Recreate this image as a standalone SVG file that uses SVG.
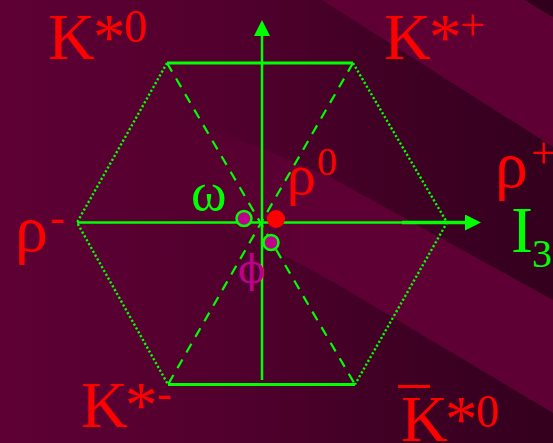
<svg xmlns="http://www.w3.org/2000/svg" width="553" height="443" viewBox="0 0 553 443">
<defs>
<linearGradient id="bg" gradientUnits="userSpaceOnUse" x1="0" y1="0" x2="553" y2="0">
<stop offset="0" stop-color="#5E0034"/>
<stop offset="0.4" stop-color="#52002E"/>
<stop offset="0.7" stop-color="#400024"/>
<stop offset="1" stop-color="#34001E"/>
</linearGradient>
<linearGradient id="band" gradientUnits="userSpaceOnUse" x1="170" y1="0" x2="300" y2="0">
<stop offset="0" stop-color="#5E0034" stop-opacity="0"/>
<stop offset="1" stop-color="#5E0034" stop-opacity="1"/>
</linearGradient>
<marker id="arrow" viewBox="0 0 16 16" refX="0" refY="8" markerWidth="16" markerHeight="16" markerUnits="userSpaceOnUse" orient="auto">
<path d="M0,0 L16,8 L0,16 Z" fill="#00FF00"/>
</marker>
</defs>
<style>
.t{font-family:"Liberation Serif","Times New Roman",serif}
.r{fill:#FF0000}
.g{fill:#00FF00}
.m{fill:#C0008C}
.axis{stroke:#00FF00;stroke-width:2.5;fill:none}
.dot{stroke:#00FF00;stroke-width:2.4;stroke-dasharray:2.2 2.2;fill:none}
.dash{stroke:#00FF00;stroke-width:2.2;stroke-dasharray:10 8;fill:none}
.edge{stroke:#00FF00;stroke-width:3;fill:none}
.pt{fill:#C0008C;stroke:#00FF00;stroke-width:2.5}
</style>
<g id="background">
<rect width="553" height="443" fill="url(#bg)"/>
<polygon points="322,0 525,0 553,17 553,147" fill="#5E0034"/>
<polygon points="553,0 525,0 553,17" fill="#30001C"/>
<polygon points="170,115 260,148 330,177 553,300 553,413 330,280 270,248 170,200" fill="url(#band)"/>
</g>
<g id="connectors">
<line class="edge" x1="167" y1="63" x2="353" y2="63"/>
<line class="edge" x1="168" y1="384.5" x2="355" y2="384.5"/>
<polyline class="dot" points="167,63 77,222.5 168,384.5"/>
<polyline class="dot" points="353,63 447,222.5 355,384.5"/>
<line class="dash" x1="167" y1="63" x2="355" y2="384.5"/>
<line class="dash" x1="353" y1="63" x2="168" y2="384.5"/>
<line class="axis" x1="262" y1="380" x2="262" y2="36" marker-end="url(#arrow)"/>
<line class="axis" x1="77" y1="222.5" x2="465" y2="222.5" marker-end="url(#arrow)"/>
<line class="axis" x1="402" y1="222.5" x2="465" y2="222.5" style="stroke-width:3.5"/>
</g>
<g id="K-star-0">
<text class="t r" font-size="65"><tspan x="48" y="59">K</tspan><tspan x="93" y="59">*</tspan><tspan x="124" y="42" font-size="46">0</tspan></text>
</g>
<g id="K-star-plus">
<text class="t r" font-size="65"><tspan x="384" y="59">K</tspan><tspan x="429" y="59">*</tspan><tspan x="460" y="40" font-size="44">+</tspan></text>
</g>
<g id="rho-minus">
<text class="t r" font-size="66"><tspan x="15" y="251">ρ</tspan><tspan x="50" y="232" font-size="44">-</tspan></text>
</g>
<g id="rho-plus">
<text class="t r" font-size="66"><tspan x="495" y="187">ρ</tspan><tspan x="531" y="168" font-size="44">+</tspan></text>
</g>
<g id="rho-0">
<circle cx="276" cy="219" r="9" fill="#FF0000"/>
<text class="t r" font-size="58"><tspan x="287" y="194">ρ</tspan><tspan x="317" y="175" font-size="40">0</tspan></text>
</g>
<g id="omega">
<circle class="pt" cx="244" cy="218.5" r="7.5"/>
<text class="t g" font-size="54" x="191" y="210">ω</text>
</g>
<g id="phi">
<circle class="pt" cx="271" cy="242.5" r="7.5"/>
<text class="m" font-size="40" x="238" y="283" style="font-family:'DejaVu Serif','Liberation Serif',serif">ϕ</text>
</g>
<g id="I3">
<text class="t g" font-size="66"><tspan x="511" y="252">I</tspan><tspan x="532" y="267" font-size="40">3</tspan></text>
</g>
<g id="K-star-minus">
<text class="t r" font-size="65"><tspan x="81" y="427">K</tspan><tspan x="125" y="427">*</tspan><tspan x="157" y="408" font-size="44">-</tspan></text>
</g>
<g id="Kbar-star-0">
<line x1="398" y1="386.5" x2="430" y2="386.5" stroke="#FF0000" stroke-width="3"/>
<text class="t r" font-size="65"><tspan x="401" y="441">K</tspan><tspan x="445" y="441">*</tspan><tspan x="476" y="427" font-size="46">0</tspan></text>
</g>
</svg>
